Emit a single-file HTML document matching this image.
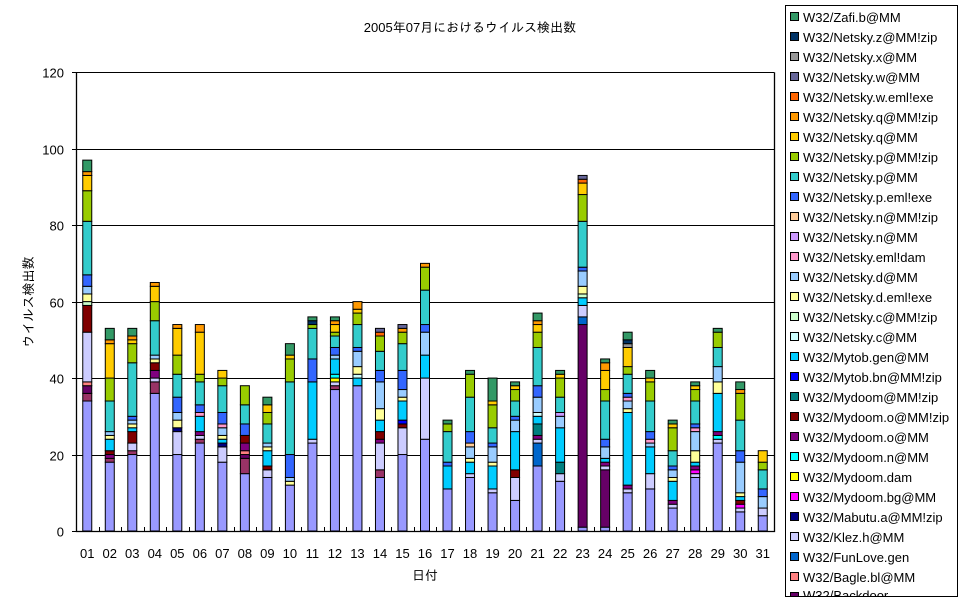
<!DOCTYPE html>
<html><head><meta charset="utf-8"><style>
html,body{margin:0;padding:0;background:#fff;width:967px;height:601px;overflow:hidden}
svg{display:block}
svg text{font-family:"Liberation Sans","IPAGothic","Noto Sans CJK JP",sans-serif;fill:#000}
</style></head><body>
<svg id="chart" width="967" height="601" viewBox="0 0 967 601" xmlns="http://www.w3.org/2000/svg" overflow="hidden">
<rect width="967" height="601" fill="#fff"/>
<text x="470" y="32" font-size="13" text-anchor="middle">2005年07月におけるウイルス検出数</text>
<text transform="translate(33,302) rotate(-90)" font-size="13" text-anchor="middle">ウイルス検出数</text>
<text x="425" y="580" font-size="13" text-anchor="middle">日付</text>
<g id="grid"></g><g id="bars"></g><g id="axes"></g>
<defs><clipPath id="lc"><rect x="785" y="5" width="173" height="591"/></clipPath></defs>
<rect x="785.5" y="5.5" width="172" height="591" fill="#fff" stroke="#000"/>
<g id="legend" clip-path="url(#lc)"></g>
</svg>
<script>
const days=["01","02","03","04","05","06","07","08","09","10","11","12","13","14","15","16","17","18","19","20","21","22","23","24","25","26","27","28","29","30","31"];
const yTicks=[0,20,40,60,80,100,120];
const seriesNames=["W32/Bugbear.b@MM","W32/Bagle.dam","W32/Backdoor","W32/Bagle.bl@MM","W32/FunLove.gen","W32/Klez.h@MM","W32/Mabutu.a@MM!zip","W32/Mydoom.bg@MM","W32/Mydoom.dam","W32/Mydoom.n@MM","W32/Mydoom.o@MM","W32/Mydoom.o@MM!zip","W32/Mydoom@MM!zip","W32/Mytob.bn@MM!zip","W32/Mytob.gen@MM","W32/Netsky.c@MM","W32/Netsky.c@MM!zip","W32/Netsky.d.eml!exe","W32/Netsky.d@MM","W32/Netsky.eml!dam","W32/Netsky.n@MM","W32/Netsky.n@MM!zip","W32/Netsky.p.eml!exe","W32/Netsky.p@MM","W32/Netsky.p@MM!zip","W32/Netsky.q@MM","W32/Netsky.q@MM!zip","W32/Netsky.w.eml!exe","W32/Netsky.w@MM","W32/Netsky.x@MM","W32/Netsky.z@MM!zip","W32/Zafi.b@MM"];
const seriesColors=["#9999FF","#993366","#660066","#FF8080","#0066CC","#CCCCFF","#000080","#FF00FF","#FFFF00","#00FFFF","#800080","#800000","#008080","#0000FF","#00CCFF","#CCFFFF","#CCFFCC","#FFFF99","#99CCFF","#FF99CC","#CC99FF","#FFCC99","#3366FF","#33CCCC","#99CC00","#FFCC00","#FF9900","#FF6600","#666699","#969696","#003366","#339966"];
const s00=[34,18,20,36,20,23,18,15,14,12,23,37,38,14,20,24,11,14,10,8,17,13,1,1,10,11,6,14,23,5,4];
const s01=[2,1,1,3,0,1,0,4,0,0,0,1,0,2,0,0,0,0,0,0,0,0,0,0,0,0,0,0,0,0,0];
const s02=[2,0,0,0,0,0,0,1,0,0,0,0,0,0,0,0,0,0,0,0,0,0,53,15,0,0,0,0,0,0,0];
const s03=[1,0,0,0,0,0,0,1,0,0,0,0,0,0,0,0,0,0,0,0,0,0,0,0,0,0,0,0,0,0,0];
const s04=[0,0,0,0,0,0,0,0,0,0,0,0,0,0,0,0,0,0,0,0,6,0,2,0,0,0,0,0,0,0,0];
const s05=[13,0,2,1,6,1,4,0,2,0,1,1,0,7,7,16,0,1,1,6,1,2,3,1,1,4,1,1,1,1,2];
const s06=[0,0,0,0,1,0,1,0,0,0,0,0,0,0,0,0,0,0,0,0,0,0,0,0,0,0,0,0,0,0,0];
const s07=[0,0,0,0,0,0,0,0,0,0,0,0,0,0,0,0,0,0,0,0,0,0,0,0,0,0,0,1,0,1,0];
const s08=[0,0,0,0,0,0,0,0,0,0,0,1,0,0,0,0,0,0,0,0,0,0,0,0,0,0,0,0,0,0,0];
const s09=[0,0,0,0,0,0,0,0,0,0,0,1,0,0,0,0,0,0,0,0,0,0,0,0,0,0,0,0,1,0,0];
const s10=[0,1,0,2,0,1,0,2,0,0,0,0,0,1,0,0,0,0,0,0,1,0,0,1,1,0,1,1,1,0,0];
const s11=[7,1,3,2,0,0,0,2,1,0,0,0,0,2,1,0,0,0,0,2,0,0,0,0,0,0,0,0,0,1,0];
const s12=[0,0,0,0,0,0,0,0,0,0,0,0,0,0,0,0,0,0,0,0,3,3,0,0,0,0,0,0,0,0,0];
const s13=[0,0,0,0,0,0,0,0,0,0,0,0,0,0,1,0,0,0,0,0,0,0,0,0,0,0,0,0,0,0,0];
const s14=[0,3,1,0,0,4,1,0,4,0,15,4,2,3,5,6,6,3,6,10,2,9,2,1,19,7,5,1,10,1,0];
const s15=[0,0,0,0,0,0,0,0,0,0,0,0,1,0,0,0,0,0,0,0,1,0,0,0,0,0,0,0,0,0,0];
const s16=[1,0,0,0,0,0,0,0,0,0,0,0,0,0,0,0,0,0,0,0,0,0,1,0,0,0,0,0,0,0,0];
const s17=[2,1,1,1,2,0,1,0,1,1,0,0,2,3,1,0,0,1,1,0,0,0,2,0,1,0,1,3,3,1,0];
const s18=[2,1,1,1,2,0,2,0,1,1,0,1,4,7,2,6,0,3,4,3,4,3,4,3,2,1,2,5,4,8,3];
const s19=[0,0,0,0,0,1,1,0,0,0,0,0,0,0,0,0,0,0,0,0,0,0,0,0,1,1,0,1,0,0,0];
const s20=[0,0,0,0,0,0,0,0,0,0,0,0,0,0,0,0,0,0,0,0,0,1,0,0,0,0,0,0,0,0,0];
const s21=[0,0,0,0,0,0,0,0,0,0,0,0,0,0,0,0,0,1,0,0,0,0,0,0,0,0,0,0,0,0,0];
const s22=[3,0,1,0,4,2,3,3,0,6,6,2,1,3,5,2,1,3,1,1,3,0,1,2,1,2,1,1,0,3,2];
const s23=[14,8,14,9,6,6,7,5,5,19,8,3,6,5,7,9,8,9,4,4,10,4,12,10,5,8,4,6,5,8,5];
const s24=[8,6,5,5,5,2,2,5,3,6,1,1,3,4,3,6,2,6,6,3,4,5,7,3,2,5,6,3,4,7,2];
const s25=[4,9,1,4,7,11,2,0,2,1,0,2,1,0,0,0,0,0,1,1,2,1,3,5,5,1,1,1,0,0,3];
const s26=[1,1,1,1,1,2,0,0,0,0,0,1,2,0,1,1,0,0,0,0,1,0,0,2,0,0,0,0,0,1,0];
const s27=[0,0,0,0,0,0,0,0,0,0,0,0,0,1,0,0,0,0,0,0,0,0,1,0,0,0,0,0,0,0,0];
const s28=[0,0,0,0,0,0,0,0,0,0,0,0,0,1,1,0,0,0,0,0,0,0,1,0,0,0,0,0,0,0,0];
const s29=[0,0,0,0,0,0,0,0,0,0,0,0,0,0,0,0,0,0,0,0,0,0,0,0,1,0,0,0,0,0,0];
const s30=[0,0,0,0,0,0,0,0,0,0,1,0,0,0,0,0,0,0,0,0,0,0,0,0,1,0,0,0,0,0,0];
const s31=[3,3,2,0,0,0,0,0,2,3,1,1,0,0,0,0,1,1,6,1,2,1,0,1,2,2,1,1,1,2,0];
const seriesValues=[s00,s01,s02,s03,s04,s05,s06,s07,s08,s09,s10,s11,s12,s13,s14,s15,s16,s17,s18,s19,s20,s21,s22,s23,s24,s25,s26,s27,s28,s29,s30,s31];

const NS="http://www.w3.org/2000/svg";
const L=76,R=774,B=531,T=72.2,YMAX=120;
const band=(R-L)/days.length, barW=9;
const yScale=v=>B-(v/YMAX)*(B-T);
const xCenter=i=>L+(i+0.5)*band;
function mk(tag,attrs,parent){const e=document.createElementNS(NS,tag);for(const k in attrs)e.setAttribute(k,attrs[k]);parent.appendChild(e);return e;}
const grid=document.getElementById('grid'),bars=document.getElementById('bars'),axes=document.getElementById('axes'),legend=document.getElementById('legend');

yTicks.forEach(t=>{
  const y=Math.round(yScale(t))+0.5;
  if(t>0){const g=mk('line',{x1:L,x2:R,y1:y,y2:y,stroke:'#000','stroke-width':1},grid);
  
  }
  const tk=mk('line',{x1:L-4,x2:L,y1:y,y2:y,stroke:'#000'},axes);
  
  
  const tx=mk('text',{x:L-12,y:y+5,'font-size':13,'text-anchor':'end'},axes);
  tx.textContent=t;
  
  
});

days.forEach((d,i)=>{
  let cum=0;
  const g=mk('g',{},bars);
  
  
  seriesValues.forEach((arr,s)=>{
    const v=arr[i]; if(!v) return;
    const y1=yScale(cum+v), y0=yScale(cum);
    const r=mk('rect',{x:xCenter(i)-barW/2,y:y1,width:barW,height:y0-y1,fill:seriesColors[s],stroke:'#000','stroke-width':1},g);
    
    
    cum+=v;
  });
  const lb=mk('text',{x:xCenter(i),y:558,'font-size':13,'text-anchor':'middle'},axes);
  lb.textContent=d;
  
  
  const xt=Math.round(L+(i+1)*band)+0.5;
  const tk=mk('line',{x1:xt,x2:xt,y1:B-4,y2:B,stroke:'#000'},axes);
  
  
});
const ax=mk('path',{d:`M${L+0.5},${T} V${B+0.5} H${R+0.5} V${T}`,fill:'none',stroke:'#000','stroke-width':1.3},axes);



for(let k=0;k<seriesNames.length;k++){
  const s=seriesNames.length-1-k, y=17+k*20;
  if(y-6>596) break;
  const g=mk('g',{},legend);
  
  
  mk('rect',{x:790.5,y:y-4.5,width:8,height:8,fill:seriesColors[s],stroke:'#000'},g);
  const t=mk('text',{x:803,y:Math.min(y+5,600),'font-size':13},g);
  t.textContent=seriesNames[s];
}
</script>
</body></html>
